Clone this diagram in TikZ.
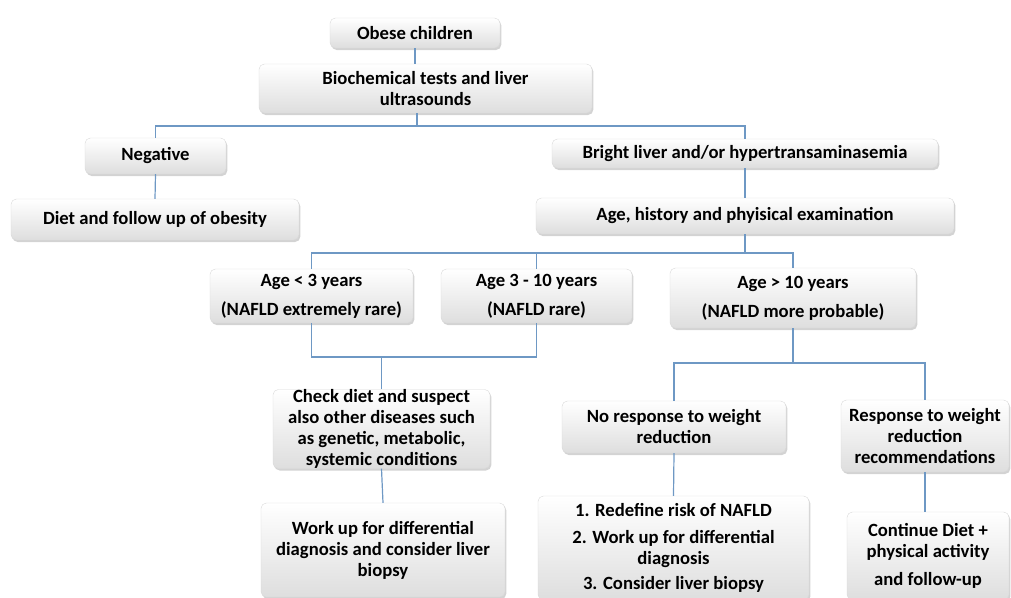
\documentclass[tikz,border=0pt]{standalone}
\usepackage{fontspec}
\setmainfont{Carlito}
\usetikzlibrary{shadows}
\definecolor{linkblue}{RGB}{110,152,196}
\begin{document}
\begin{tikzpicture}[x=0.75pt, y=-0.75pt,
  box/.style={draw=black!15, line width=0.3pt, rounded corners=4pt, top color=white, bottom color=black!13,
    drop shadow={shadow xshift=1pt, shadow yshift=-1.5pt, opacity=0.35},
    align=center, inner sep=0pt, font=\fontsize{14}{15.75}\selectfont\bfseries},
  link/.style={linkblue, line width=0.9pt}]
\useasboundingbox (0,0) rectangle (1011,597);
\node[box, minimum width=127.5pt, minimum height=22.5pt] (obese) at (415,33) {Obese children};
\node[box, minimum width=249.75pt, minimum height=36.75pt] (biochem) at (425.5,88.5) {Biochemical tests and liver\\ultrasounds};
\node[box, minimum width=105.75pt, minimum height=27pt] (negative) at (155.5,156) {Negative};
\node[box, minimum width=216pt, minimum height=30.75pt] (diet) at (155,219.5) {Diet and follow up of obesity};
\node[box, minimum width=289.5pt, minimum height=21.75pt] (bright) at (745,153.5) {Bright liver and/or hypertransaminasemia};
\node[box, minimum width=313.5pt, minimum height=27pt] (agehist) at (745,216) {Age, history and phyisical examination};
\node[box, minimum width=152.25pt, minimum height=40.5pt] (age3) at (311.5,296) {Age < 3 years\\[6pt](NAFLD extremely rare)};
\node[box, minimum width=143.25pt, minimum height=40.5pt] (age310) at (536.5,296) {Age 3 - 10 years\\[6pt](NAFLD rare)};
\node[box, minimum width=184.5pt, minimum height=45pt] (age10) at (793,298) {Age > 10 years\\[6pt](NAFLD more probable)};
\node[box, minimum width=162.75pt, minimum height=58.5pt] (check) at (381.5,429) {Check diet and suspect\\also other diseases such\\as genetic, metabolic,\\systemic conditions};
\node[box, minimum width=183pt, minimum height=70.5pt] (workup) at (383,550) {Work up for differential\\diagnosis and consider liver\\biopsy};
\node[box, minimum width=168pt, minimum height=39pt] (noresp) at (674,427) {No response to weight\\reduction};
\node[box, minimum width=203.25pt, minimum height=78pt] (redefine) at (673.5,548) {1. Redefine risk of NAFLD\\[5pt]2. Work up for differential\\diagnosis\\[3pt]3. Consider liver biopsy};
\node[box, minimum width=126pt, minimum height=54pt] (resp) at (925,436) {Response to weight\\reduction\\recommendations};
\node[box, minimum width=121.5pt, minimum height=66pt] (cont) at (928,556) {Continue Diet +\\physical activity\\[5pt]and follow-up};
\coordinate (s1) at (417,126);
\coordinate (s2) at (745,253);
\coordinate (s3) at (383,357);
\coordinate (s4) at (793,363);
\draw[link] (obese.south) -- (obese.south |- biochem.north);
\draw[link] (biochem.south -| s1) -- (s1);
\draw[link] (negative.north) |- (s1);
\draw[link] (bright.north) |- (s1);
\draw[link] (negative.south) -- (diet.north);
\draw[link] (bright.south) -- (agehist.north);
\draw[link] (agehist.south) -- (s2);
\draw[link] (age3.north) |- (s2);
\draw[link] (age10.north) |- (s2);
\draw[link] (age310.north) -- (age310.north |- s2);
\draw[link] (age3.south) |- (age310.south |- s3) -- (age310.south);
\draw[link] (check.north) -- (check.north |- s3);
\draw[link] (check.south) -- (workup.north);
\draw[link] (age10.south) -- (s4);
\draw[link] (noresp.north) |- (s4);
\draw[link] (resp.north) |- (s4);
\draw[link] (noresp.south) -- (redefine.north);
\draw[link] (resp.south) -- (resp.south |- cont.north);
\end{tikzpicture}
\end{document}
